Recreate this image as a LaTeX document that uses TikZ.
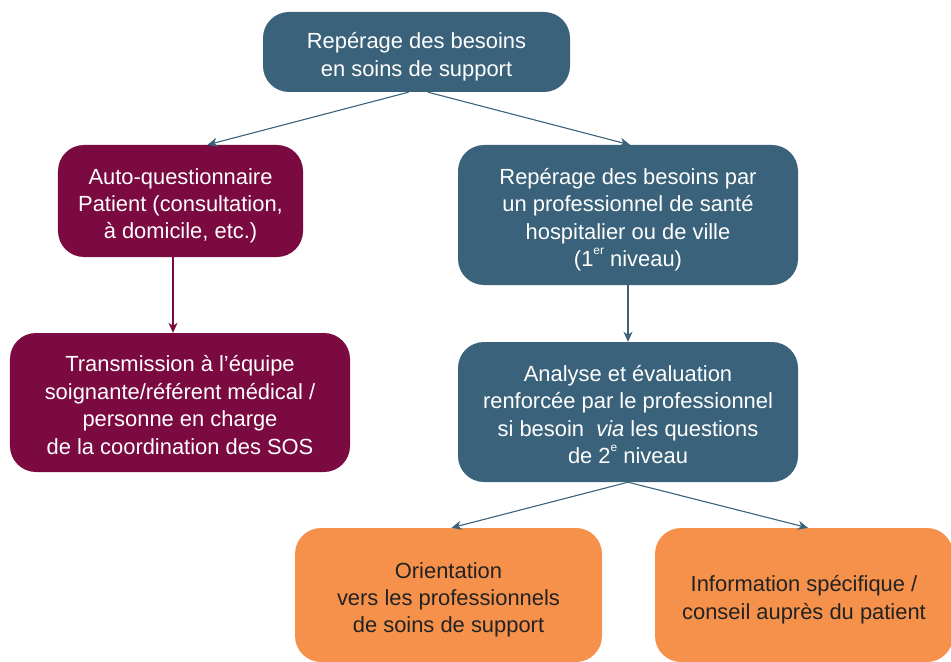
\documentclass[tikz,border=0pt]{standalone}
\usepackage{fontspec}
\setmainfont{Liberation Sans}
\usetikzlibrary{arrows.meta,calc}
\definecolor{teal}{HTML}{3A637B}
\definecolor{wine}{HTML}{7A0A3F}
\definecolor{apricot}{HTML}{F5914A}
\definecolor{ink}{HTML}{222222}
\newcommand{\sups}[1]{\raisebox{0.55em}{\fontsize{12}{12}\selectfont #1}}
% centred lines of a card, set slightly below the box centre
\newcommand{\cardtext}[1]{\raisebox{-5bp}[\height][\depth]{\begin{tabular}{@{}c@{}}#1\end{tabular}}}
\begin{document}
\begin{tikzpicture}[x=1bp,y=-1bp,
  card/.style={rounded corners=26bp, align=center, inner sep=0pt,
    font=\fontsize{22}{27.5}\selectfont},
  tealcard/.style={card, fill=teal, text=white},
  winecard/.style={card, fill=wine, text=white},
  orangecard/.style={card, fill=apricot, text=ink},
  link/.style={line width=1.1bp, -{Stealth[length=10bp,width=9bp,inset=3bp]}}]
\useasboundingbox (0,0) rectangle (951,662);

\node[tealcard, minimum width=307bp, minimum height=80bp] (top) at (416.5,52)
  {\cardtext{Repérage des besoins\\en soins de support}};
\node[winecard, minimum width=245bp, minimum height=112bp] (auto) at (180.5,201)
  {\cardtext{Auto-questionnaire\\Patient (consultation,\\à domicile, etc.)}};
\node[tealcard, minimum width=340bp, minimum height=140bp] (pro) at (628,215)
  {\cardtext{Repérage des besoins par\\un professionnel de santé\\hospitalier ou de ville\\(1\sups{er} niveau)}};
\node[winecard, minimum width=340bp, minimum height=139bp] (trans) at (180,402.5)
  {\cardtext{Transmission à l’équipe\\soignante/référent médical /\\personne en charge\\de la coordination des SOS}};
\node[tealcard, minimum width=340bp, minimum height=140bp] (eval) at (628,412)
  {\cardtext{Analyse et évaluation\\renforcée par le professionnel\\si besoin \ \textit{via} les questions\\de 2\sups{e} niveau}};
\node[orangecard, minimum width=307bp, minimum height=134bp] (orient) at (448.5,595)
  {\cardtext{Orientation\\vers les professionnels\\de soins de support}};
\node[orangecard, minimum width=298bp, minimum height=134bp] (info) at (804,595)
  {\cardtext{Information spécifique /\\conseil auprès du patient}};

% connectors
\coordinate (topL) at ($(top.south)+(-8,0)$);
\coordinate (topR) at ($(top.south)+(11.5,0)$);
\draw[link, teal] (topL) -- ($(auto.north)+(27,0)$);
\draw[link, teal] (topR) -- ($(pro.north)+(2,0)$);
\draw[link, wine] ($(auto.south)+(-7.5,0)$) -- ($(trans.north)+(-7,0)$);
\draw[link, teal] (pro.south) -- (eval.north);
\draw[link, teal] (eval.south) -- ($(orient.north)+(3,0)$);
\draw[link, teal] (eval.south) -- ($(info.north)+(4,0)$);
\end{tikzpicture}
\end{document}
